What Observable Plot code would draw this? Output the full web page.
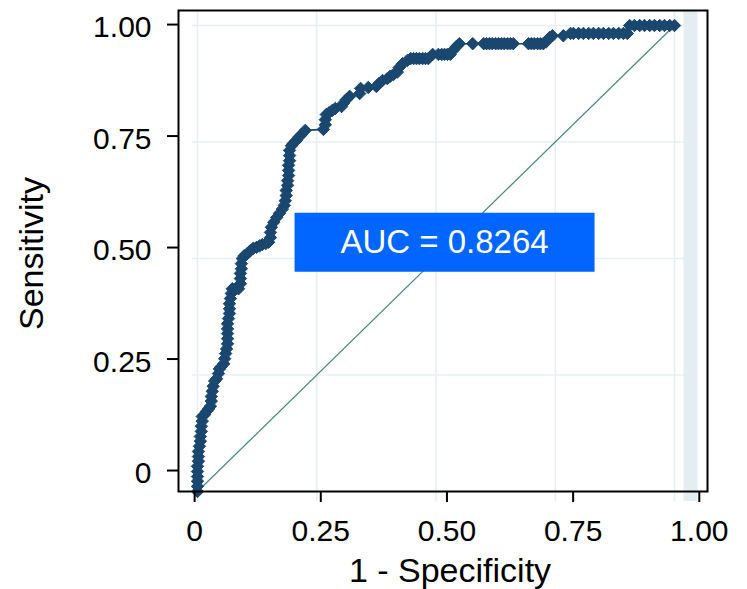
<!DOCTYPE html>
<html>
<head>
<meta charset="utf-8">
<script src="https://cdn.jsdelivr.net/npm/d3@7"></script>
<script src="https://cdn.jsdelivr.net/npm/@observablehq/plot@0.6"></script>
<style>
  html, body { margin: 0; padding: 0; background: #ffffff; }
  #chart svg { display: block; }
</style>
</head>
<body>
<div id="chart"></div>
<script>
// ---- Data ----
const fpr = [
  0.000, 0.000, 0.000, 0.000, 0.000, 0.000, 0.002, 0.002, 0.002, 0.004,
  0.006, 0.006, 0.008, 0.008, 0.010, 0.010, 0.015, 0.019, 0.023, 0.027,
  0.029, 0.029, 0.031, 0.033, 0.036, 0.040, 0.044, 0.046, 0.050, 0.055,
  0.057, 0.059, 0.061, 0.063, 0.063, 0.063, 0.063, 0.063, 0.065, 0.067,
  0.067, 0.067, 0.069, 0.071, 0.073, 0.080, 0.086, 0.090, 0.090, 0.090,
  0.092, 0.092, 0.094, 0.098, 0.105, 0.111, 0.117, 0.124, 0.130, 0.136,
  0.143, 0.149, 0.153, 0.153, 0.155, 0.160, 0.166, 0.172, 0.178, 0.182,
  0.184, 0.186, 0.186, 0.189, 0.189, 0.191, 0.191, 0.191, 0.193, 0.193,
  0.193, 0.197, 0.201, 0.207, 0.212, 0.218, 0.226, 0.264, 0.268, 0.268,
  0.270, 0.276, 0.283, 0.289, 0.302, 0.306, 0.312, 0.319, 0.340, 0.342,
  0.358, 0.375, 0.381, 0.388, 0.398, 0.404, 0.411, 0.419, 0.423, 0.430,
  0.440, 0.447, 0.453, 0.459, 0.465, 0.472, 0.478, 0.484, 0.493, 0.505,
  0.512, 0.518, 0.524, 0.530, 0.537, 0.543, 0.549, 0.577, 0.600, 0.606,
  0.612, 0.618, 0.625, 0.631, 0.637, 0.643, 0.650, 0.656, 0.662, 0.694,
  0.700, 0.706, 0.713, 0.719, 0.725, 0.731, 0.738, 0.744, 0.767, 0.782,
  0.788, 0.799, 0.809, 0.820, 0.830, 0.841, 0.851, 0.862, 0.872, 0.883,
  0.893, 0.901, 0.906, 0.916, 0.927, 0.937, 0.948, 0.958, 0.969, 0.979,
  0.990, 1.000
];
const tpr = [
  0.000, 0.011, 0.022, 0.032, 0.043, 0.054, 0.065, 0.075, 0.086, 0.097,
  0.108, 0.118, 0.129, 0.140, 0.151, 0.161, 0.165, 0.172, 0.177, 0.183,
  0.194, 0.204, 0.215, 0.226, 0.237, 0.242, 0.253, 0.263, 0.268, 0.274,
  0.285, 0.296, 0.306, 0.317, 0.328, 0.339, 0.349, 0.360, 0.371, 0.382,
  0.392, 0.403, 0.414, 0.425, 0.435, 0.435, 0.435, 0.446, 0.457, 0.468,
  0.478, 0.489, 0.500, 0.506, 0.511, 0.517, 0.522, 0.524, 0.527, 0.530,
  0.532, 0.535, 0.545, 0.556, 0.567, 0.578, 0.588, 0.597, 0.606, 0.614,
  0.624, 0.635, 0.646, 0.657, 0.667, 0.678, 0.689, 0.700, 0.710, 0.721,
  0.732, 0.742, 0.747, 0.753, 0.760, 0.766, 0.775, 0.777, 0.787, 0.798,
  0.809, 0.813, 0.818, 0.822, 0.826, 0.833, 0.841, 0.848, 0.854, 0.865,
  0.867, 0.869, 0.876, 0.882, 0.886, 0.891, 0.895, 0.900, 0.910, 0.918,
  0.925, 0.929, 0.929, 0.929, 0.929, 0.929, 0.929, 0.929, 0.938, 0.938,
  0.938, 0.938, 0.938, 0.938, 0.948, 0.955, 0.961, 0.961, 0.961, 0.961,
  0.961, 0.961, 0.961, 0.961, 0.961, 0.961, 0.961, 0.961, 0.961, 0.961,
  0.961, 0.961, 0.961, 0.961, 0.961, 0.965, 0.974, 0.978, 0.978, 0.983,
  0.983, 0.983, 0.983, 0.983, 0.983, 0.983, 0.983, 0.983, 0.983, 0.983,
  0.983, 0.983, 1.000, 1.000, 1.000, 1.000, 1.000, 1.000, 1.000, 1.000,
  1.000, 1.000
];
const diagX = [0, 1];
const diagY = [0, 1];
const gridValues = [0, 0.25, 0.5, 0.75, 1];
const xTickValues = [0, 0.25, 0.5, 0.75, 1];
const xTickLabels = ["0", "0.25", "0.50", "0.75", "1.00"];
const yTickValues = [0, 0.25, 0.5, 0.75, 1];
const yTickLabels = ["0", "0.25", "0.50", "0.75", "1.00"];
const aucLabel = ["AUC = 0.8264"];
const aucX = [0.518];
const aucY = [0.535];
const xTitle = "1 - Specificity";
const yTitle = "Sensitivity";

// ---- Styling constants ----
const navy = "#1a476f";
const refColor = "#4a8a7a";
const gridColor = "#e8eff2";
const bandColor = "#e4edf0";
const boxColor = "#0066ff";
const font = "'Liberation Sans', Arial, Helvetica, sans-serif";
// the axis ticks of the reference sit on a slightly stretched ruler
const xAxisOffset = -0.006, xAxisStretch = 1.058;
const yAxisOffset = 0.045, yAxisStretch = 0.957;

const points = fpr.map((x, i) => ({x, y: tpr[i]}));
const diag = diagX.map((x, i) => ({x, y: diagY[i]}));
const ann = aucLabel.map((t, i) => ({x: aucX[i], y: aucY[i], t}));
const xAxisPos = xTickValues.map(v => xAxisOffset + v * xAxisStretch);
const yAxisPos = yTickValues.map(v => yAxisOffset + v * yAxisStretch);
const xLab = new Map(xAxisPos.map((p, i) => [p, xTickLabels[i]]));
const yLab = new Map(yAxisPos.map((p, i) => [p, yTickLabels[i]]));

const boxSymbol = {
  draw(context) { context.rect(-150, -29.5, 300, 59); }
};

const chart = Plot.plot({
  width: 747,
  height: 589,
  marginLeft: 178,
  marginRight: 40,
  marginTop: 10,
  marginBottom: 98,
  style: {background: "#ffffff", fontFamily: font, color: "#000"},
  x: {domain: [-0.0398, 1.0692], label: null},
  y: {domain: [0, 1.0322], label: null},
  marks: [
    Plot.ruleX(gridValues, {stroke: gridColor, strokeWidth: 1.6, insetBottom: -10}),
    Plot.ruleY(gridValues.slice(1), {stroke: gridColor, strokeWidth: 1.6, insetLeft: 14, insetRight: 10}),
    Plot.ruleX([1], {dx: 16, stroke: bandColor, strokeWidth: 14, insetBottom: -10}),
    Plot.line(diag, {x: "x", y: "y", stroke: refColor, strokeWidth: 1.2}),
    Plot.line(points, {x: "x", y: "y", stroke: navy, strokeWidth: 1.6}),
    Plot.dot(points, {x: "x", y: "y", symbol: "diamond2", r: 5.6, fill: navy, stroke: navy, strokeWidth: 1}),
    Plot.dot(ann, {x: "x", y: "y", symbol: boxSymbol, fill: boxColor, stroke: "none"}),
    Plot.text(ann, {x: "x", y: "y", text: "t", fill: "#ffffff", fontSize: 33, lineAnchor: "middle"}),
    Plot.frame({stroke: "#000", strokeWidth: 2}),
    Plot.axisX(xAxisPos, {anchor: "bottom", tickSize: 11, tickPadding: 17, strokeWidth: 2,
      tickFormat: d => xLab.get(d), fontSize: 30, label: null, color: "#000"}),
    Plot.axisY(yAxisPos, {anchor: "left", tickSize: 11, strokeWidth: 2,
      tickFormat: () => "", label: null, color: "#000"}),
    Plot.axisY(yAxisPos, {anchor: "left", tickSize: 0, tickPadding: 27, dy: 3,
      tickFormat: d => yLab.get(d), fontSize: 30, label: null, color: "#000"}),
    Plot.text([xTitle], {frameAnchor: "bottom", textAnchor: "middle", dx: 7, dy: 90, lineAnchor: "bottom", fontSize: 34, fill: "#000"}),
    Plot.text([yTitle], {frameAnchor: "left", textAnchor: "middle", rotate: -90, dx: -136, dy: 2.5, lineAnchor: "bottom", fontSize: 34, fill: "#000"})
  ]
});
document.getElementById("chart").appendChild(chart);
</script>
</body>
</html>
